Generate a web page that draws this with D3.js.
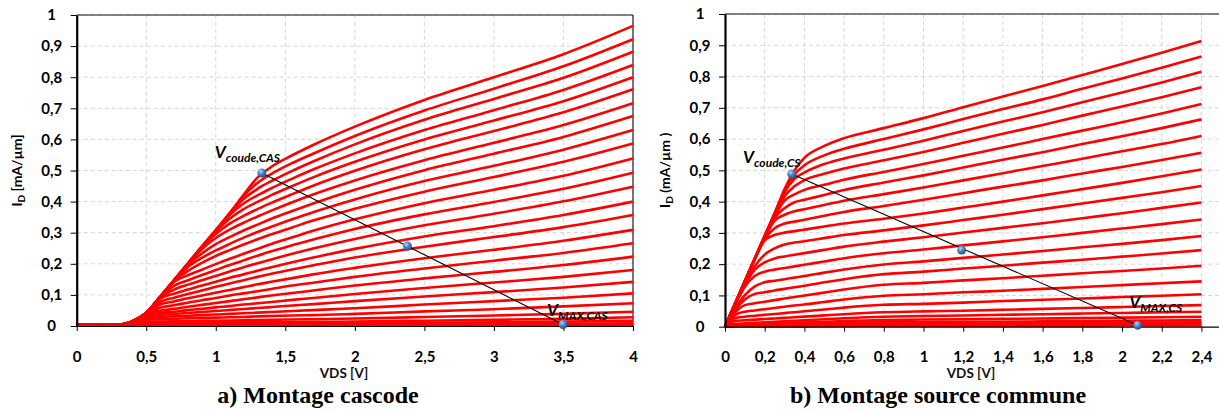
<!DOCTYPE html>
<html><head><meta charset="utf-8">
<script src="https://cdn.jsdelivr.net/npm/d3@7"></script>
<style>body{margin:0;background:#fff;} svg{display:block;}</style>
</head><body><svg id="c" width="1219" height="410"></svg>
<script>
// ---------- DATA ----------
const yTicks = [0, 0.1, 0.2, 0.3, 0.4, 0.5, 0.6, 0.7, 0.8, 0.9, 1];
const yTickLabels = ["0", "0,1", "0,2", "0,3", "0,4", "0,5", "0,6", "0,7", "0,8", "0,9", "1"];
const casXTicks = [0, 0.5, 1, 1.5, 2, 2.5, 3, 3.5, 4];
const casXTickLabels = ["0", "0,5", "1", "1,5", "2", "2,5", "3", "3,5", "4"];
const csXTicks = [0, 0.2, 0.4, 0.6, 0.8, 1, 1.2, 1.4, 1.6, 1.8, 2, 2.2, 2.4];
const csXTickLabels = ["0", "0,2", "0,4", "0,6", "0,8", "1", "1,2", "1,4", "1,6", "1,8", "2", "2,2", "2,4"];

// a) cascode : VDS samples and ID curves (mA/um)
const casX = [0, 0.3, 0.4, 0.5, 0.6, 0.7, 0.8, 0.9, 1.0, 1.1, 1.2, 1.3, 1.4, 1.55, 1.7, 2.0, 2.5, 3.0, 3.5, 4.0];
const casCurves = [
 [.003,.004,.015,.042,.094,.147,.201,.255,.308,.363,.422,.477,.512,.549,.582,.641,.727,.800,.874,.965],
 [.003,.004,.015,.042,.094,.147,.201,.255,.308,.363,.418,.460,.489,.524,.554,.611,.693,.763,.835,.922],
 [.003,.004,.015,.042,.094,.147,.201,.255,.308,.360,.408,.441,.466,.499,.529,.584,.663,.730,.798,.882],
 [.003,.004,.015,.042,.094,.147,.201,.255,.306,.357,.394,.420,.443,.474,.503,.555,.630,.694,.759,.839],
 [.003,.004,.015,.042,.094,.147,.201,.254,.304,.345,.376,.399,.421,.450,.478,.528,.600,.661,.723,.800],
 [.003,.004,.015,.042,.094,.147,.200,.252,.296,.329,.354,.376,.396,.424,.451,.499,.568,.627,.687,.761],
 [.003,.004,.015,.042,.094,.147,.199,.247,.283,.310,.332,.352,.371,.398,.423,.468,.533,.589,.646,.716],
 [.003,.004,.015,.042,.094,.146,.197,.233,.263,.286,.307,.326,.345,.370,.394,.438,.501,.554,.608,.675],
 [.003,.004,.015,.042,.094,.145,.190,.219,.243,.264,.284,.302,.319,.343,.366,.407,.466,.515,.567,.630],
 [.003,.004,.015,.042,.094,.143,.177,.203,.225,.244,.262,.279,.295,.317,.339,.377,.432,.479,.528,.587],
 [.003,.004,.015,.042,.093,.142,.163,.181,.199,.216,.232,.248,.264,.285,.306,.343,.395,.438,.483,.539],
 [.003,.004,.015,.042,.092,.129,.147,.164,.180,.196,.211,.226,.240,.260,.278,.312,.359,.399,.441,.493],
 [.003,.004,.015,.042,.091,.117,.133,.147,.161,.175,.189,.202,.214,.232,.249,.280,.324,.361,.401,.448],
 [.003,.004,.015,.042,.088,.104,.117,.130,.142,.155,.166,.178,.189,.205,.220,.248,.288,.321,.357,.400],
 [.003,.004,.015,.041,.078,.091,.103,.114,.126,.137,.147,.158,.168,.182,.195,.220,.255,.286,.318,.357],
 [.003,.004,.015,.041,.069,.079,.089,.098,.107,.116,.125,.134,.142,.154,.166,.187,.218,.245,.274,.309],
 [.003,.004,.015,.041,.059,.067,.075,.083,.090,.098,.105,.112,.119,.130,.139,.158,.185,.210,.235,.266],
 [.003,.004,.015,.039,.049,.055,.062,.068,.074,.080,.086,.092,.098,.106,.114,.130,.153,.174,.196,.223],
 [.003,.004,.015,.034,.042,.046,.051,.055,.060,.064,.069,.073,.077,.084,.090,.103,.122,.140,.158,.180],
 [.003,.004,.0145,.029,.0355,.0386,.0418,.045,.0482,.0514,.0545,.0577,.0609,.0657,.0704,.080,.095,.109,.124,.142],
 [.003,.004,.014,.024,.029,.031,.033,.035,.037,.039,.041,.043,.045,.048,.051,.057,.069,.080,.091,.105],
 [.003,.004,.0135,.020,.022,.023,.025,.026,.027,.028,.029,.031,.032,.034,.035,.039,.047,.054,.063,.073],
 [.003,.004,.012,.0138,.0144,.0151,.0158,.0165,.0171,.0178,.0185,.0192,.0199,.0209,.0219,.024,.029,.034,.039,.046],
 [.003,.004,.0098,.0103,.0106,.0108,.0111,.0113,.0116,.0118,.0121,.0123,.0125,.0129,.0133,.014,.017,.020,.023,.028],
 [.003,.004,.0068,.007,.007,.0071,.0072,.0073,.0074,.0075,.0075,.0076,.0077,.0078,.0079,.008,.010,.012,.014,.017],
 [.003,.004,.0045,.0046,.0047,.0048,.0049,.005,.005,.005,.005,.005,.005,.005,.005,.005,.0055,.006,.007,.009],
 [.003,.003,.003,.003,.003,.003,.003,.003,.003,.003,.003,.003,.003,.003,.003,.003,.003,.003,.003,.004]
];
const casPointX = [1.331, 2.378, 3.497];
const casPointY = [0.492, 0.257, 0.005];

// b) source commune
const csX = [0, 0.05, 0.1, 0.15, 0.2, 0.25, 0.3, 0.35, 0.4, 0.5, 0.6, 0.8, 1.0, 1.2, 1.4, 1.6, 1.8, 2.0, 2.2, 2.4];
const csCurves = [
 [0,.0725,.145,.2175,.29,.3625,.44,.50,.54,.578,.603,.635,.667,.702,.736,.77,.805,.84,.876,.914],
 [0,.0725,.145,.2175,.29,.3625,.432,.486,.516,.548,.569,.600,.631,.664,.696,.727,.761,.794,.828,.864],
 [0,.0725,.145,.2175,.29,.361,.430,.473,.493,.520,.538,.566,.595,.626,.656,.686,.718,.749,.781,.815],
 [0,.0725,.145,.2175,.29,.357,.417,.449,.469,.4891,.506,.532,.559,.588,.617,.645,.675,.704,.734,.766],
 [0,.0725,.145,.2175,.29,.3525,.403,.423,.4375,.4538,.47,.495,.520,.547,.573,.600,.627,.654,.682,.712],
 [0,.0725,.145,.2175,.287,.348,.379,.398,.4058,.4214,.437,.461,.484,.509,.534,.558,.584,.609,.635,.663],
 [0,.0725,.145,.2175,.2843,.339,.358,.3689,.3757,.3894,.403,.424,.445,.468,.491,.514,.537,.561,.584,.610],
 [0,.0725,.145,.2175,.280,.315,.33,.3361,.3423,.3547,.367,.386,.406,.427,.448,.468,.490,.511,.533,.556],
 [0,.0725,.145,.2158,.276,.293,.3008,.3056,.3105,.3203,.33,.345,.362,.381,.400,.420,.440,.460,.481,.503],
 [0,.0701,.1354,.1929,.2306,.2507,.263,.269,.2735,.2833,.293,.308,.324,.341,.358,.376,.394,.412,.430,.450],
 [0,.0696,.1334,.1828,.2057,.2184,.2248,.23,.2352,.2456,.256,.272,.286,.301,.316,.331,.347,.363,.380,.397],
 [0,.069,.128,.162,.176,.1826,.1878,.193,.1982,.2086,.219,.235,.247,.260,.273,.286,.300,.314,.328,.343],
 [0,.058,.101,.129,.142,.147,.152,.157,.162,.173,.183,.199,.209,.220,.231,.242,.254,.265,.277,.290],
 [0,.052,.087,.105,.110,.116,.121,.126,.131,.142,.152,.168,.176,.186,.195,.205,.214,.224,.234,.245],
 [0,.045,.069,.075,.080,.085,.090,.095,.0995,.109,.119,.134,.140,.148,.155,.163,.171,.178,.186,.195],
 [0,.037,.048,.052,.056,.060,.064,.068,.071,.079,.087,.099,.104,.110,.115,.121,.127,.133,.139,.145],
 [0,.028,.032,.035,.038,.0405,.0435,.0464,.0493,.055,.061,.070,.073,.077,.082,.086,.090,.095,.099,.104],
 [0,.0186,.0205,.0225,.0244,.0264,.0283,.0303,.0322,.0361,.040,.046,.049,.051,.054,.057,.060,.063,.066,.069],
 [0,.0091,.0108,.0124,.014,.0156,.0173,.0189,.0205,.0238,.027,.032,.034,.036,.038,.040,.042,.044,.046,.048],
 [0,.0073,.0083,.0092,.0102,.0112,.0122,.0131,.0141,.016,.018,.021,.023,.024,.025,.026,.028,.029,.030,.032],
 [0,.0049,.0055,.0062,.0068,.0075,.0081,.0088,.0094,.0107,.012,.014,.015,.016,.016,.017,.018,.019,.020,.021],
 [0,.0044,.0048,.0051,.0054,.0057,.006,.0064,.0067,.0074,.008,.009,.010,.010,.011,.012,.012,.013,.013,.014],
 [0,.003,.0032,.0034,.0036,.0038,.004,.0042,.0044,.0047,.005,.005,.006,.006,.006,.007,.007,.007,.008,.008],
 [0,.002,.002,.002,.002,.002,.002,.002,.002,.0025,.003,.003,.003,.003,.003,.003,.003,.004,.004,.004]
];
const csPointX = [0.336, 1.192, 2.079];
const csPointY = [0.488, 0.245, 0.005];

// ---------- DRAWING ----------
const svg = d3.select("#c");
const FONT = "Lato, 'Open Sans', sans-serif";
const defs = svg.append("defs");
const g0 = defs.append("radialGradient").attr("id", "dotg").attr("cx", "38%").attr("cy", "32%").attr("r", "70%");
g0.append("stop").attr("offset", "0").attr("stop-color", "#b8d6f5");
g0.append("stop").attr("offset", "0.45").attr("stop-color", "#4f87c6");
g0.append("stop").attr("offset", "1").attr("stop-color", "#1d4c86");

function panel(cfg) {
  const x = d3.scaleLinear().domain(cfg.xDomain).range(cfg.xRange);
  const y = d3.scaleLinear().domain([0, 1]).range(cfg.yRange);
  const g = svg.append("g");
  const [x0, x1] = cfg.xRange, [yb, yt] = cfg.yRange;

  // grid
  g.append("g").selectAll("line").data(yTicks.filter(d => d > 0)).join("line")
    .attr("x1", x0).attr("x2", x1).attr("y1", d => y(d)).attr("y2", d => y(d))
    .attr("stroke", "#d6d6d6").attr("stroke-width", 1).attr("stroke-dasharray", "4,3");
  g.append("g").selectAll("line").data(cfg.xTicks.filter(d => d > 0)).join("line")
    .attr("x1", d => x(d)).attr("x2", d => x(d)).attr("y1", yt).attr("y2", yb)
    .attr("stroke", "#d6d6d6").attr("stroke-width", 1).attr("stroke-dasharray", "4,3");

  // frame (top / right)
  g.append("line").attr("x1", x0).attr("x2", x1).attr("y1", yt).attr("y2", yt).attr("stroke", "#111").attr("stroke-width", 1.2);
  if (cfg.rightBorder) g.append("line").attr("x1", x1).attr("x2", x1).attr("y1", yt).attr("y2", yb).attr("stroke", "#222").attr("stroke-width", 1.2);

  // curves
  const line = d3.line().x((d, i) => x(cfg.xs[i])).y(d => y(d)).curve(d3.curveMonotoneX);
  g.append("g").selectAll("path").data(cfg.curves).join("path")
    .attr("d", line).attr("fill", "none").attr("stroke", "#ff0000").attr("stroke-width", 2.6)
    .attr("stroke-linejoin", "round");

  // axes
  const ax = g.append("g").attr("transform", `translate(0,${yb})`)
    .call(d3.axisBottom(x).tickValues(cfg.xTicks).tickFormat((d, i) => cfg.xLabels[i]).tickSize(5).tickSizeOuter(0));
  ax.select(".domain").attr("stroke", "#000").attr("stroke-width", 1.2);
  ax.selectAll(".tick line").attr("stroke", "#000");
  ax.selectAll("text").attr("y", 30.5).attr("dy", "0.35em").attr("font-family", FONT).attr("font-weight", "bold").attr("font-size", 15).attr("fill", "#000");

  const ay = g.append("g").attr("transform", `translate(${x0},0)`)
    .call(d3.axisLeft(y).tickValues(yTicks).tickFormat((d, i) => yTickLabels[i]).tickSize(6).tickSizeOuter(0));
  ay.select(".domain").attr("stroke", "#000").attr("stroke-width", 2.2);
  ay.selectAll(".tick line").attr("stroke", "#000");
  ay.selectAll("text").attr("x", -25).attr("text-anchor", "middle").attr("font-family", FONT).attr("font-weight", "bold").attr("font-size", 15).attr("fill", "#000");

  // black line + points
  const px = cfg.px, py = cfg.py;
  g.append("line").attr("x1", x(px[0])).attr("y1", y(py[0])).attr("x2", x(px[2])).attr("y2", y(py[2]))
    .attr("stroke", "#000").attr("stroke-width", 1.1);
  g.append("g").selectAll("circle").data(px).join("circle")
    .attr("cx", d => x(d)).attr("cy", (d, i) => y(py[i])).attr("r", 4.5).attr("fill", "url(#dotg)");

  // annotations
  function annot(ix, dx, dy, sub) {
    const t = g.append("text").attr("x", x(px[ix]) + dx).attr("y", y(py[ix]) + dy)
      .attr("font-family", FONT).attr("font-weight", "bold").attr("font-style", "italic").attr("fill", "#000");
    t.append("tspan").attr("font-size", 17).text("V");
    t.append("tspan").attr("font-size", 12).attr("dy", 4).text(sub);
  }
  annot(0, cfg.kneeOff[0], cfg.kneeOff[1], cfg.kneeSub);
  annot(2, cfg.maxOff[0], cfg.maxOff[1], cfg.maxSub);

  // y title
  const yt2 = g.append("text").attr("transform", `translate(${cfg.yTitleX},${(yt + yb) / 2}) rotate(-90)`)
    .attr("text-anchor", "middle").attr("font-family", FONT).attr("font-weight", "bold").attr("font-size", 14).attr("fill", "#000");
  yt2.append("tspan").text("I");
  yt2.append("tspan").attr("font-size", 10).attr("dy", 3).text("D");
  yt2.append("tspan").attr("dy", -3).text(cfg.yTitleRest);

  // x title
  g.append("text").attr("x", cfg.xTitleX).attr("y", 378).attr("text-anchor", "middle")
    .attr("font-family", FONT).attr("font-weight", "bold").attr("font-size", 13.5).attr("fill", "#111").text("VDS [V]");

  // caption
  g.append("text").attr("x", cfg.capX).attr("y", 403).attr("text-anchor", "middle")
    .attr("font-family", "'Liberation Serif', 'Times New Roman', serif").attr("font-weight", "bold").attr("font-size", 24).attr("fill", "#000").text(cfg.caption);
}

panel({
  xDomain: [0, 4], xRange: [76.7, 633], yRange: [326, 15],
  xTicks: casXTicks, xLabels: casXTickLabels, xs: casX, curves: casCurves,
  px: casPointX, py: casPointY, rightBorder: true,
  kneeOff: [-47, -14.5], kneeSub: "coude,CAS", maxOff: [-16, -8.5], maxSub: "MAX,CAS",
  yTitleX: 22, yTitleRest: " [mA/µm]", xTitleX: 344, capX: 318, caption: "a) Montage cascode"
});
panel({
  xDomain: [0, 2.49], xRange: [725, 1219.3], yRange: [326.7, 14],
  xTicks: csXTicks, xLabels: csXTickLabels, xs: csX, curves: csCurves,
  px: csPointX, py: csPointY, rightBorder: false,
  kneeOff: [-48.7, -10.8], kneeSub: "coude,CS", maxOff: [-8.5, -16.7], maxSub: "MAX,CS",
  yTitleX: 670, yTitleRest: " (mA/µm )", xTitleX: 971, capX: 938, caption: "b) Montage source commune"
});
</script></body></html>
